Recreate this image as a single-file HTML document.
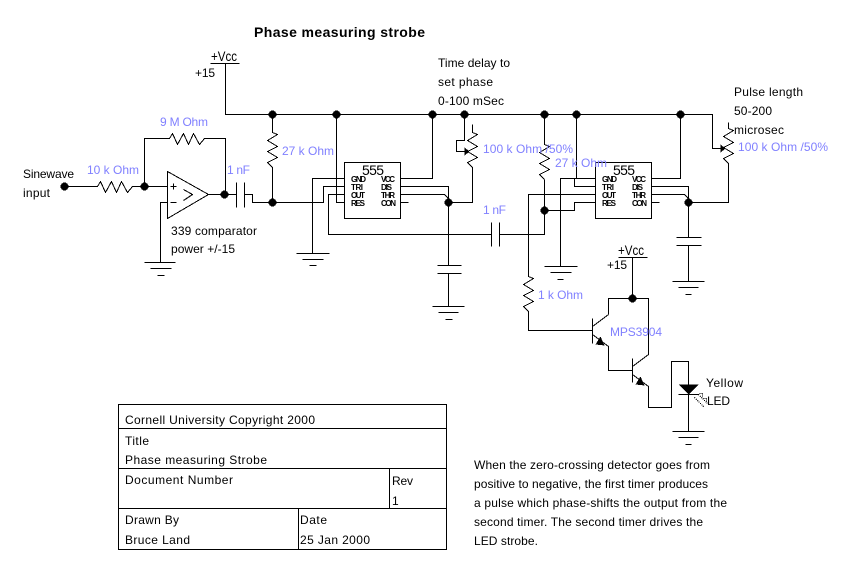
<!DOCTYPE html>
<html>
<head>
<meta charset="utf-8">
<title>Phase measuring strobe</title>
<style>
html,body{margin:0;padding:0;background:#fff;width:841px;height:571px;overflow:hidden}
svg{display:block}
text{font-family:"Liberation Sans",Arial,sans-serif;font-size:12px;fill:#000}
.b text,text.b{fill:#8080ff}
.p text{font-size:8px;font-weight:bold}
</style>
</head>
<body>
<svg width="841" height="571" viewBox="0 0 841 571" xmlns="http://www.w3.org/2000/svg">
<rect width="841" height="571" fill="#fff"/>
<g transform="translate(.5,.5)" fill="none" stroke="#000" stroke-width="1" shape-rendering="crispEdges">
<!-- input and op amp -->
<polyline points="64,186 97,186 100,181 105,192 111,181 116,192 121,181 127,192 132,186 167,186"/>
<polyline points="144,186 144,138 169,138 172,133 177,144 183,133 188,144 193,133 199,144 204,138 225,138 225,190"/>
<polygon points="167,171 167,218 208,194"/>
<path d="M170,186H176M173,183V189M170,202H176"/>
<polyline points="183,189 192,194 183,200"/>
<polyline points="167,202 160,202 160,262"/>
<path d="M144,262H175M150,268H171M157,275H164"/>
<path d="M208,194H236M236,182V207M244,182V207"/>
<polyline points="244,194 252,194 252,202 272,202"/>
<!-- rail -->
<path d="M210,63H239"/>
<polyline points="225,63 225,114 712,114 712,148 722,148"/>
<polyline points="272,114 272,132 277,134 267,140 277,146 267,151 277,157 267,162 272,167 272,202"/>
<!-- 555 #1 -->
<rect x="344" y="162" width="56" height="56"/>
<polyline points="344,178 312,178 312,253"/>
<path d="M296,253H329M302,259H323M309,265H316"/>
<polyline points="272,202 323,202 323,186 344,186"/>
<polyline points="344,194 328,194 328,234 491,234"/>
<path d="M491,222V246M499,222V246"/>
<polyline points="499,234 544,234 544,179"/>
<polyline points="336,114 336,202 344,202"/>
<polyline points="400,178 432,178 432,114"/>
<polyline points="400,186 448,186 448,265"/>
<polyline points="400,194 444,194 448,198"/>
<path d="M400,202H408"/>
<polyline points="448,202 472,202 472,167 467,162 477,157 467,151 477,146 467,140 477,134 472,132 472,124"/>
<polyline points="464,114 464,140 456,140 456,151 466,151"/>
<path d="M437,265H461M437,273H461M448,273V306M432,306H464M438,312H458M445,319H452"/>
<!-- R 27k 2 -->
<polyline points="544,114 544,144 549,146 539,152 549,158 539,163 549,169 539,174 544,179"/>
<!-- 555 #2 -->
<rect x="595" y="162" width="56" height="56"/>
<polyline points="576,114 576,178"/>
<polyline points="595,178 560,178 560,266"/>
<path d="M544,266H577M550,272H571M557,279H563"/>
<polyline points="574,178 574,186 595,186"/>
<polyline points="544,210 574,210 574,202 595,202"/>
<polyline points="595,194 528,194 528,276 533,278 523,284 533,290 523,295 533,301 523,306 528,311 528,330 592,330"/>
<polyline points="651,178 680,178 680,114"/>
<polyline points="651,186 688,186 688,237"/>
<polyline points="651,194 684,194 688,198"/>
<path d="M651,202H659"/>
<polyline points="688,202 728,202 728,163 723,158 733,153 723,147 733,142 723,136 733,130 728,128 728,122"/>
<path d="M676,237H701M676,245H701M688,245V281M672,281H704M678,287H698M685,294H691"/>
<!-- transistors -->
<path d="M618,257H647M632,257V298"/>
<polyline points="608,314 608,298 648,298 648,354 632,366"/>
<polyline points="592,326 608,314"/>
<path d="M592,318V343M632,358V382"/>
<polyline points="592,334 608,346 608,370 632,370"/>
<polyline points="632,374 648,386 648,407 671,407 671,361 688,361 688,431"/>
<path d="M678,394H698M672,431H704M678,437H698M685,444H691"/>
<!-- title block -->
<rect x="118" y="404" width="328" height="145"/>
<path d="M118,428H446M118,468H446M118,508H446M389,468V508M298,508V549"/>
</g>
<g transform="translate(.5,.5)" fill="#000" shape-rendering="crispEdges">
<circle cx="64" cy="186" r="4"/><circle cx="144" cy="186" r="4"/><circle cx="224" cy="194" r="4"/>
<circle cx="272" cy="114" r="4"/><circle cx="272" cy="202" r="4"/><circle cx="336" cy="114" r="4"/>
<circle cx="432" cy="114" r="4"/><circle cx="464" cy="114" r="4"/><circle cx="544" cy="114" r="4"/>
<circle cx="576" cy="114" r="4"/><circle cx="680" cy="114" r="4"/><circle cx="448" cy="202" r="4"/>
<circle cx="544" cy="210" r="4"/><circle cx="688" cy="202" r="4"/><circle cx="632" cy="298" r="4"/>
<polygon points="464,147 469,151 464,155"/>
<polygon points="720,144 725,148 720,152"/>
<polygon points="595,344 600,336 604,345"/>
<polygon points="635,384 640,376 644,385"/>
<polygon points="678,384 698,384 688,394"/>
</g>
<g transform="translate(.5,.5)" fill="none" stroke="#000" stroke-width="1" stroke-dasharray="1 1" shape-rendering="crispEdges">
<path d="M694,397L704,407M698,394L707,403M699,393L702,393M702,393L702,397M703,398L706,398M706,398L706,401"/>
</g>
<text x="254" y="37" style="font-size:14px;font-weight:bold" textLength="171">Phase measuring strobe</text>
<text x="211" y="61" style="font-size:14px" textLength="26" lengthAdjust="spacingAndGlyphs">+Vcc</text>
<text x="195" y="77" textLength="20">+15</text>
<text x="23" y="178" textLength="51">Sinewave</text>
<text x="23" y="197" textLength="27">input</text>
<text x="171" y="235" textLength="86">339 comparator</text>
<text x="171" y="253" textLength="64">power +/-15</text>
<text x="438" y="67" textLength="72">Time delay to</text>
<text x="438" y="86" textLength="55">set phase</text>
<text x="438" y="105" textLength="66">0-100 mSec</text>
<text x="734" y="96" textLength="69">Pulse length</text>
<text x="734" y="115" textLength="38">50-200</text>
<text x="734" y="134" textLength="50">microsec</text>
<text x="618" y="255" style="font-size:14px" textLength="26" lengthAdjust="spacingAndGlyphs">+Vcc</text>
<text x="607" y="269" textLength="20">+15</text>
<text x="706" y="387" textLength="37">Yellow</text>
<text x="707" y="405" textLength="23">LED</text>
<g class="b">
<text x="160" y="126" textLength="48">9 M Ohm</text>
<text x="87" y="174" textLength="52">10 k Ohm</text>
<text x="227" y="174" textLength="23">1 nF</text>
<text x="282" y="155" textLength="52">27 k Ohm</text>
<text x="483" y="153" textLength="90">100 k Ohm /50%</text>
<text x="555" y="167" textLength="52">27 k Ohm</text>
<text x="483" y="214" textLength="23">1 nF</text>
<text x="538" y="299" textLength="45">1 k Ohm</text>
<text x="610" y="336" textLength="52">MPS3904</text>
<text x="738" y="151" textLength="90">100 k Ohm /50%</text>
</g>
<text x="362" y="175" style="font-size:14px" textLength="22">555</text>
<text x="613" y="175" style="font-size:14px" textLength="22">555</text>
<g class="p">
<text x="351" y="182" textLength="15">GND</text><text x="351" y="190" textLength="12">TRI</text><text x="351" y="198" textLength="14">OUT</text><text x="351" y="206" textLength="14">RES</text>
<text x="381" y="182" textLength="14">VCC</text><text x="381" y="190" textLength="11">DIS</text><text x="381" y="198" textLength="14">THR</text><text x="381" y="206" textLength="15">CON</text>
<text x="602" y="182" textLength="15">GND</text><text x="602" y="190" textLength="12">TRI</text><text x="602" y="198" textLength="14">OUT</text><text x="602" y="206" textLength="14">RES</text>
<text x="632" y="182" textLength="14">VCC</text><text x="632" y="190" textLength="11">DIS</text><text x="632" y="198" textLength="14">THR</text><text x="632" y="206" textLength="15">CON</text>
</g>
<text x="125" y="424" textLength="190">Cornell University Copyright 2000</text>
<text x="125" y="445" textLength="24">Title</text>
<text x="125" y="464" textLength="142">Phase measuring Strobe</text>
<text x="125" y="484" textLength="108">Document Number</text>
<text x="392" y="485" textLength="21">Rev</text>
<text x="392" y="505">1</text>
<text x="125" y="524" textLength="54">Drawn By</text>
<text x="125" y="544" textLength="65">Bruce Land</text>
<text x="300" y="524" textLength="27">Date</text>
<text x="300" y="544" textLength="70">25 Jan 2000</text>
<text x="474" y="469" textLength="236">When the zero-crossing detector goes from</text>
<text x="474" y="488" textLength="234">positive to negative, the first timer produces</text>
<text x="474" y="507" textLength="253">a pulse which phase-shifts the output from the</text>
<text x="474" y="526" textLength="229">second timer. The second timer drives the</text>
<text x="474" y="545" textLength="64">LED strobe.</text>
</svg>
</body>
</html>
